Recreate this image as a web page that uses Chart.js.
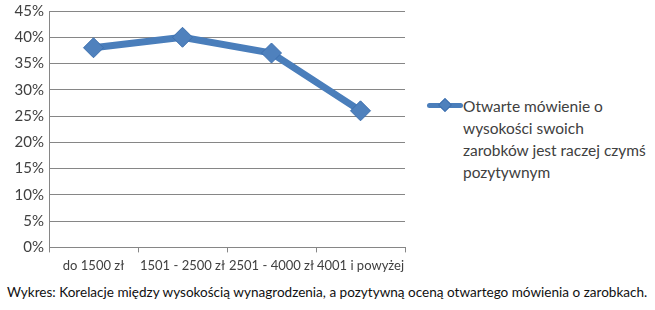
<!DOCTYPE html>
<html><head><meta charset="utf-8">
<script src="https://cdn.jsdelivr.net/npm/chart.js@4/dist/chart.umd.min.js"></script>
<style>
html,body{margin:0;padding:0;background:#fff;width:655px;height:310px;overflow:hidden;font-family:Lato,"Open Sans",sans-serif;}
#wrap{position:absolute;left:0;top:-3px;width:420px;height:283px;}
#legend{position:absolute;left:427px;top:95px;width:230px;}
#lsym{position:absolute;left:0;top:8px;width:36px;height:5px;background:#4a7ebb;border-radius:3px;}
#ldia{position:absolute;left:13px;top:5px;width:8px;height:8px;background:#4f81bd;transform:rotate(45deg);border:1px solid #3d6fae;}
#ltext{position:absolute;left:36px;top:0;font-size:15.5px;line-height:22px;color:#404040;white-space:nowrap;}
#caption{position:absolute;left:7px;top:284px;font-size:13.55px;color:#111;white-space:nowrap;}
</style></head>
<body>
<div id="wrap"><canvas id="c" width="420" height="283"></canvas></div>
<div id="legend"><div id="lsym"></div><div id="ldia"></div><div id="ltext"></div></div>
<div id="caption"></div>
<script>
const categories = ["do 1500 zł", "1501 - 2500 zł", "2501 - 4000 zł", "4001 i powyżej"];
const values = [38, 40, 37, 26];
const seriesName = ["Otwarte mówienie o", "wysokości swoich", "zarobków jest raczej czymś", "pozytywnym"];
const caption = "Wykres: Korelacje między wysokością wynagrodzenia, a pozytywną oceną otwartego mówienia o zarobkach.";

document.getElementById('ltext').innerHTML = seriesName.join('<br>');
document.getElementById('caption').textContent = caption;

new Chart(document.getElementById('c'), {
  type: 'line',
  data: {
    labels: categories,
    datasets: [{
      label: seriesName.join(' '),
      data: values,
      borderColor: '#4a7ebb',
      borderWidth: 7,
      backgroundColor: '#4f81bd',
      pointStyle: 'rectRot',
      pointRadius: 10,
      pointBackgroundColor: '#4f81bd',
      pointBorderColor: '#3d6fae',
      pointBorderWidth: 1,
      tension: 0
    }]
  },
  options: {
    responsive: false,
    animation: false,
    devicePixelRatio: 1,
    layout: { padding: { top: 2, right: 15, left: 0, bottom: 0 } },
    plugins: { legend: { display: false }, tooltip: { enabled: false } },
    scales: {
      x: {
        offset: true,
        grid: { offset: true, drawOnChartArea: false, drawTicks: true, tickLength: 5, color: '#868686' },
        border: { color: '#868686' },
        ticks: { color: '#404040', font: { family: 'Lato', size: 13 }, padding: 6, maxRotation: 0, autoSkip: false }
      },
      y: {
        min: 0, max: 45,
        grid: { color: '#868686', drawTicks: false },
        border: { color: '#868686' },
        afterFit: (s) => { s.width = 49; },
        ticks: { stepSize: 5, color: '#404040', font: { family: 'Lato', size: 15 }, padding: 5, callback: v => v + '%' }
      }
    }
  }
});
</script>
</body></html>
